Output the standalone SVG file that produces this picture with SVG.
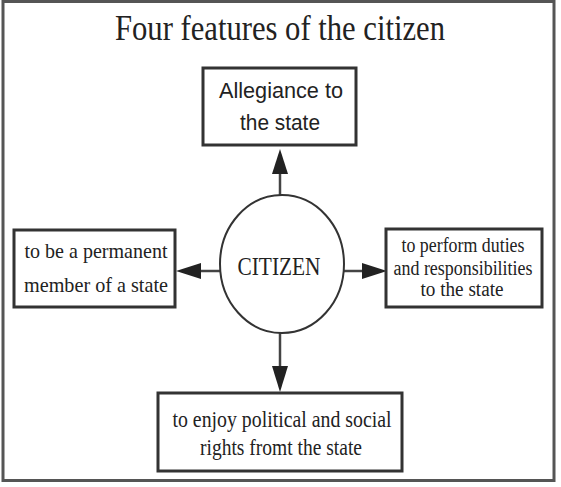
<svg xmlns="http://www.w3.org/2000/svg" width="561" height="487" viewBox="0 0 561 487">
<style>
.box{fill:#fff;stroke:#333;stroke-width:3}
.serif{font-family:"Liberation Serif","Times New Roman",serif;fill:#222;text-anchor:middle}
.sans{font-family:"Liberation Sans",Arial,sans-serif;fill:#222;text-anchor:middle}
.line{stroke:#444;stroke-width:2.5;fill:none}
.head{fill:#222}
</style>
<rect x="0" y="0" width="561" height="487" fill="#fff"/>
<rect x="3" y="1.5" width="551" height="479" fill="none" stroke="#555" stroke-width="3"/>
<text class="serif" x="280" y="40" font-size="35" textLength="330" lengthAdjust="spacingAndGlyphs">Four features of the citizen</text>

<g id="connectors">
<line class="line" x1="280" y1="196" x2="280" y2="172"/>
<polygon class="head" points="280,149 272,174 288,174"/>
<line class="line" x1="220" y1="271" x2="199" y2="271"/>
<polygon class="head" points="176,271 201,263 201,279"/>
<line class="line" x1="344" y1="271" x2="365" y2="271"/>
<polygon class="head" points="387,271 362,263 362,279"/>
<line class="line" x1="280" y1="333" x2="280" y2="369"/>
<polygon class="head" points="280,392 272,366 288,366"/>
</g>

<g id="citizen">
<ellipse cx="282" cy="264" rx="62" ry="69" fill="#fff" stroke="#333" stroke-width="2"/>
<text class="serif" x="279" y="275" font-size="26" textLength="83" lengthAdjust="spacingAndGlyphs">CITIZEN</text>
</g>

<g id="allegiance">
<rect class="box" x="203" y="68" width="153" height="77"/>
<text class="sans" x="281" y="98" font-size="22" textLength="124" lengthAdjust="spacingAndGlyphs">Allegiance to</text>
<text class="sans" x="280" y="130" font-size="22" textLength="80" lengthAdjust="spacingAndGlyphs">the state</text>
</g>

<g id="member">
<rect class="box" x="14" y="230" width="161" height="77"/>
<text class="serif" x="96" y="258" font-size="22" textLength="143" lengthAdjust="spacingAndGlyphs">to be a permanent</text>
<text class="serif" x="96" y="292" font-size="22" textLength="144" lengthAdjust="spacingAndGlyphs">member of a state</text>
</g>

<g id="duties">
<rect class="box" x="386" y="229" width="156" height="78"/>
<text class="serif" x="463" y="252" font-size="20" textLength="123" lengthAdjust="spacingAndGlyphs">to perform duties</text>
<text class="serif" x="463" y="275" font-size="20" textLength="139" lengthAdjust="spacingAndGlyphs">and responsibilities</text>
<text class="serif" x="462" y="296" font-size="20" textLength="83" lengthAdjust="spacingAndGlyphs">to the state</text>
</g>

<g id="rights">
<rect class="box" x="158" y="393" width="244" height="78"/>
<text class="serif" x="282" y="427" font-size="24" textLength="219" lengthAdjust="spacingAndGlyphs">to enjoy political and social</text>
<text class="serif" x="281" y="455" font-size="24" textLength="162" lengthAdjust="spacingAndGlyphs">rights fromt the state</text>
</g>
</svg>
